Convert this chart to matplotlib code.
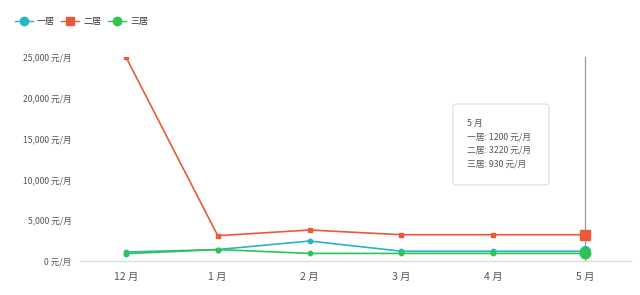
import matplotlib.pyplot as plt
from matplotlib.patches import FancyBboxPatch
from matplotlib.lines import Line2D

plt.rcParams['font.family'] = ['Noto Sans CJK SC', 'DejaVu Sans']

# data
months = ['12 月', '1 月', '2 月', '3 月', '4 月', '5 月']
one_room = [1100, 1400, 2450, 1200, 1200, 1200]
two_room = [25000, 3100, 3800, 3220, 3220, 3220]
three_room = [900, 1400, 930, 930, 930, 930]
series_names = ['一居', '二居', '三居']
y_ticks = [0, 5000, 10000, 15000, 20000, 25000]

colors = ['#2bb5c1', '#ea5a36', '#2fc451']
markers = ['o', 's', 'o']
series = [one_room, two_room, three_room]

fig = plt.figure(figsize=(6.4, 2.95), dpi=100)
ax = fig.add_axes([80 / 640, 34 / 295, 551 / 640, 204 / 295])

x = list(range(len(months)))
for vals, c, m in zip(series, colors, markers):
    ax.plot(x, vals, color=c, lw=1.2, marker=m, ms=3.2, mec=c, mfc=c, zorder=3)

# highlighted last points (hover state)
hl_sizes = [7, 6.5, 7.5]
for vals, c, m, s in zip(series, colors, markers, hl_sizes):
    ax.plot(x[-1], vals[-1], marker=m, ms=s, color=c, zorder=4)

# axis pointer
ax.axvline(x[-1], color='#999999', lw=0.9, zorder=2)

ax.set_xlim(-0.5, len(months) - 0.5)
ax.set_ylim(0, 25000)
ax.set_xticks(x)
ax.set_xticklabels(months, fontsize=7.5, color='#555555')
ax.set_yticks(y_ticks)
ax.set_yticklabels([f'{v:,} 元/月' for v in y_ticks], fontsize=6.2, color='#555555')
ax.tick_params(axis='x', length=0, pad=8)
ax.tick_params(axis='y', length=0, pad=6)
for side in ['top', 'right', 'left']:
    ax.spines[side].set_visible(False)
ax.spines['bottom'].set_color('#dddddd')
ax.spines['bottom'].set_linewidth(1)

# legend
handles = [Line2D([0], [0], color=c, lw=1.0, marker=m, ms=6, mfc=c, mec=c)
           for c, m in zip(colors, markers)]
fig.legend(handles, series_names, loc='upper left', bbox_to_anchor=(0.01, 0.97),
           ncol=3, frameon=False, fontsize=6.5, handlelength=2.0, handletextpad=0.4,
           columnspacing=0.8, labelcolor='#333333')

# tooltip
box = FancyBboxPatch((453 / 640, 1 - 185 / 295), 96 / 640, 81 / 295,
                     boxstyle='round,pad=0,rounding_size=0.008', transform=fig.transFigure,
                     facecolor='white', edgecolor='#dddddd', lw=0.8, zorder=5)
fig.patches.append(box)
tip_lines = ['5 月'] + [f'{n}: {v[-1]} 元/月' for n, v in zip(series_names, series)]
for i, t in enumerate(tip_lines):
    fig.text(467 / 640, 1 - (123 + i * 13.7) / 295, t, fontsize=6.3, color='#555555',
             va='center', ha='left', zorder=6)

fig.savefig('out.png', dpi=100)
